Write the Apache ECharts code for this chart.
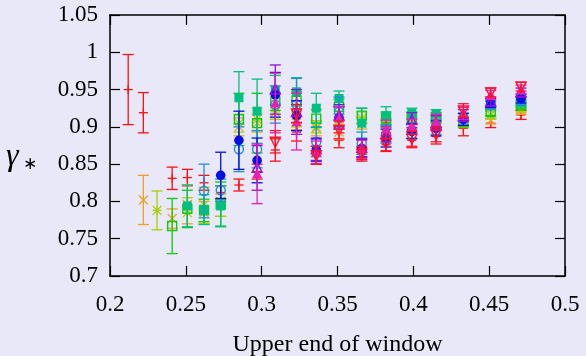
<!DOCTYPE html>
<html>
<head>
<meta charset="utf-8">
<script src="https://cdn.jsdelivr.net/npm/echarts@6/dist/echarts.min.js"></script>
<style>
  html, body { margin: 0; padding: 0; background: #e8e8f8; }
  #chart { width: 586px; height: 356px; }
</style>
</head>
<body>
<div id="chart"></div>
<script>
// upper end of window (x positions of the columns)
const xs = [0.212, 0.222, 0.231, 0.241, 0.251, 0.262, 0.273, 0.285, 0.297, 0.309,
            0.323, 0.336, 0.351, 0.366, 0.382, 0.399, 0.415, 0.433, 0.451, 0.471];

// gamma_* estimates and error bar half-widths, one pair per series
const redVal = [0.950, 0.919, null, 0.831, 0.832, 0.825, 0.812, 0.822, 0.840, 0.869, 0.893, 0.862, 0.882, 0.864, 0.876, 0.882, 0.887, 0.898, 0.905, 0.916];
const redErr = [0.047, 0.027, null, 0.015, 0.011, 0.010, 0.009, 0.008, 0.010, 0.015, 0.012, 0.012, 0.010, 0.008, 0.009, 0.010, 0.010, 0.010, 0.006, 0.006];

const orangeVal = [null, 0.802, null, 0.777, 0.796, 0.785, 0.795, 0.900, 0.905, 0.920, 0.906, 0.898, 0.893, 0.905, 0.900, 0.905, 0.905, 0.905, 0.909, 0.922];
const orangeErr = [null, 0.033, null, 0.013, 0.026, 0.015, 0.015, 0.012, 0.012, 0.010, 0.010, 0.010, 0.010, 0.008, 0.008, 0.008, 0.006, 0.006, 0.005, 0.005];

const limeVal = [null, null, 0.788, null, 0.785, 0.795, 0.800, 0.905, 0.910, 0.920, 0.910, 0.900, 0.905, 0.912, 0.905, 0.910, 0.910, 0.907, 0.916, 0.925];
const limeErr = [null, null, 0.026, null, 0.020, 0.024, 0.020, 0.012, 0.015, 0.010, 0.010, 0.008, 0.008, 0.008, 0.006, 0.006, 0.006, 0.005, 0.005, 0.005];

const greenVal = [null, null, null, 0.767, 0.790, 0.788, 0.796, 0.910, 0.905, 0.934, 0.935, 0.911, 0.927, 0.915, 0.912, 0.912, 0.912, 0.907, 0.920, 0.929];
const greenErr = [null, null, null, 0.037, 0.025, 0.015, 0.030, 0.035, 0.040, 0.012, 0.012, 0.012, 0.010, 0.010, 0.008, 0.008, 0.007, 0.007, 0.005, 0.005];

const tealVal = [null, null, null, null, 0.794, 0.789, 0.794, 0.939, 0.921, 0.949, 0.947, 0.925, 0.938, 0.905, 0.915, 0.918, 0.918, 0.913, 0.929, 0.932];
const tealErr = [null, null, null, null, 0.028, 0.020, 0.027, 0.035, 0.043, 0.020, 0.019, 0.020, 0.010, 0.020, 0.012, 0.007, 0.005, 0.005, 0.005, 0.005];

const skyVal = [null, null, null, null, null, 0.814, 0.815, 0.870, 0.870, 0.930, 0.930, 0.880, 0.920, 0.878, 0.890, 0.895, 0.900, 0.910, 0.929, 0.935];
const skyErr = [null, null, null, null, null, 0.036, 0.015, 0.030, 0.025, 0.025, 0.035, 0.020, 0.020, 0.015, 0.012, 0.010, 0.010, 0.008, 0.006, 0.006];

const blueVal = [null, null, null, null, null, null, 0.835, 0.882, 0.855, 0.943, 0.915, 0.869, 0.912, 0.871, 0.885, 0.894, 0.898, 0.910, 0.932, 0.938];
const blueErr = [null, null, null, null, null, null, 0.031, 0.039, 0.030, 0.030, 0.020, 0.015, 0.015, 0.012, 0.012, 0.010, 0.010, 0.008, 0.006, 0.006];

const purpleVal = [null, null, null, null, null, null, null, null, 0.845, 0.950, 0.920, 0.870, 0.915, 0.872, 0.890, 0.909, 0.905, 0.915, 0.934, 0.946];
const purpleErr = [null, null, null, null, null, null, null, null, 0.030, 0.033, 0.030, 0.015, 0.015, 0.012, 0.010, 0.010, 0.010, 0.008, 0.006, 0.006];

const magentaVal = [null, null, null, null, null, null, null, null, 0.837, 0.932, 0.907, 0.866, 0.912, 0.870, 0.897, 0.900, 0.907, 0.918, 0.943, 0.950];
const magentaErr = [null, null, null, null, null, null, null, null, 0.040, 0.040, 0.038, 0.015, 0.015, 0.012, 0.012, 0.010, 0.010, 0.008, 0.006, 0.006];

const crimsonVal = [null, null, null, null, null, null, null, null, null, 0.880, 0.918, 0.862, 0.896, 0.864, 0.878, 0.884, 0.890, 0.922, 0.946, 0.954];
const crimsonErr = [null, null, null, null, null, null, null, null, null, 0.015, 0.012, 0.012, 0.012, 0.010, 0.010, 0.010, 0.010, 0.009, 0.006, 0.006];

const yTicks = [0.7, 0.75, 0.8, 0.85, 0.9, 0.95, 1, 1.05];
const xTicks = [0.2, 0.25, 0.3, 0.35, 0.4, 0.45, 0.5];

const groups = [
  { vals: redVal, errs: redErr, color: '#ff1010', mark: 'plus' },
  { vals: orangeVal, errs: orangeErr, color: '#f0a020', mark: 'cross' },
  { vals: limeVal, errs: limeErr, color: '#a8d000', mark: 'star' },
  { vals: greenVal, errs: greenErr, color: '#10c810', mark: 'square' },
  { vals: tealVal, errs: tealErr, color: '#00c080', mark: 'squareFill' },
  { vals: skyVal, errs: skyErr, color: '#2090d8', mark: 'circle' },
  { vals: blueVal, errs: blueErr, color: '#0010e0', mark: 'circleFill' },
  { vals: purpleVal, errs: purpleErr, color: '#9010e0', mark: 'tri' },
  { vals: magentaVal, errs: magentaErr, color: '#e820b0', mark: 'triFill' },
  { vals: crimsonVal, errs: crimsonErr, color: '#ff1030', mark: 'triDown' }
];

const font = 'Liberation Serif';

function seg(x1, y1, x2, y2, color) {
  return { type: 'line', shape: { x1, y1, x2, y2 }, style: { stroke: color, lineWidth: 1.3 } };
}

// point symbols drawn in pixels around the data point
function marker(kind, cx, cy, color) {
  const r = 4.5;
  const stroke = { stroke: color, lineWidth: 1.4, fill: 'none' };
  const fill = { fill: color };
  switch (kind) {
    case 'plus':
      return [seg(cx - r, cy, cx + r, cy, color), seg(cx, cy - r, cx, cy + r, color)];
    case 'cross':
      return [seg(cx - r, cy - r, cx + r, cy + r, color), seg(cx - r, cy + r, cx + r, cy - r, color)];
    case 'star':
      return [seg(cx - r, cy, cx + r, cy, color), seg(cx, cy - r, cx, cy + r, color),
              seg(cx - r, cy - r, cx + r, cy + r, color), seg(cx - r, cy + r, cx + r, cy - r, color)];
    case 'square':
      return [{ type: 'rect', shape: { x: cx - r, y: cy - r, width: 2 * r, height: 2 * r }, style: stroke }];
    case 'squareFill':
      return [{ type: 'rect', shape: { x: cx - r, y: cy - r, width: 2 * r, height: 2 * r }, style: fill }];
    case 'circle':
      return [{ type: 'circle', shape: { cx, cy, r }, style: stroke }];
    case 'circleFill':
      return [{ type: 'circle', shape: { cx, cy, r: r + 0.3 }, style: fill }];
    case 'tri':
      return [{ type: 'polygon', shape: { points: [[cx, cy - r - 1], [cx + r + 0.5, cy + r], [cx - r - 0.5, cy + r]] }, style: stroke }];
    case 'triFill':
      return [{ type: 'polygon', shape: { points: [[cx, cy - r - 1], [cx + r + 0.5, cy + r], [cx - r - 0.5, cy + r]] }, style: fill }];
    default:
      return [{ type: 'polygon', shape: { points: [[cx, cy + r + 1], [cx + r + 0.5, cy - r], [cx - r - 0.5, cy - r]] }, style: stroke }];
  }
}

const series = groups.map(g => {
  const data = [];
  g.vals.forEach((v, i) => {
    if (v !== null) data.push([xs[i], v, g.errs[i]]);
  });
  return {
    type: 'custom',
    data: data,
    encode: { x: 0, y: 1 },
    clip: true,
    renderItem: (params, api) => {
      const x = api.value(0), y = api.value(1), e = api.value(2);
      const p = api.coord([x, y]);
      const top = api.coord([x, y + e]);
      const bot = api.coord([x, y - e]);
      const w = 5.5;
      return {
        type: 'group',
        style: { opacity: 0.85 },
        children: [
          seg(p[0], top[1], p[0], bot[1], g.color),
          seg(p[0] - w, top[1], p[0] + w, top[1], g.color),
          seg(p[0] - w, bot[1], p[0] + w, bot[1], g.color)
        ].concat(marker(g.mark, p[0], p[1], g.color))
      };
    }
  };
});

const fmt = v => String(+v.toFixed(2));
const axisLine = { show: true, lineStyle: { color: '#000', width: 1.5 } };
const axisTick = { show: true, inside: true, length: 10, lineStyle: { color: '#000', width: 1.2 } };
const labelStyle = { color: '#000', fontSize: 23, fontFamily: font, formatter: fmt };

const chart = echarts.init(document.getElementById('chart'));
chart.setOption({
  backgroundColor: '#e8e8f8',
  animation: false,
  grid: { left: 110, right: 21, top: 15, bottom: 80, containLabel: false, outerBoundsMode: 'none' },
  xAxis: [{
    type: 'value', position: 'bottom',
    min: xTicks[0], max: xTicks[xTicks.length - 1], interval: 0.05,
    axisLine, axisTick, splitLine: { show: false },
    axisLabel: Object.assign({ margin: 17 }, labelStyle),
    name: 'Upper end of window', nameLocation: 'middle', nameGap: 57,
    nameTextStyle: { color: '#000', fontSize: 24, fontFamily: font }
  }, {
    type: 'value', position: 'top',
    min: xTicks[0], max: xTicks[xTicks.length - 1], interval: 0.05,
    axisLine, axisTick, splitLine: { show: false }, axisLabel: { show: false }
  }],
  yAxis: [{
    type: 'value', position: 'left',
    min: yTicks[0], max: yTicks[yTicks.length - 1], interval: 0.05,
    axisLine, axisTick, splitLine: { show: false },
    axisLabel: Object.assign({ margin: 12 }, labelStyle)
  }, {
    type: 'value', position: 'right',
    min: yTicks[0], max: yTicks[yTicks.length - 1], interval: 0.05,
    axisLine, axisTick, splitLine: { show: false }, axisLabel: { show: false }
  }],
  graphic: [
    { type: 'text', x: 6, y: 157, style: { text: 'γ', fill: '#000', font: 'italic 32px "Liberation Serif"', align: 'left', verticalAlign: 'middle' } },
    { type: 'text', x: 23, y: 165, style: { text: '∗', fill: '#000', font: '17px "DejaVu Sans"', align: 'left', verticalAlign: 'middle' } }
  ],
  series: series
});
</script>
</body>
</html>
